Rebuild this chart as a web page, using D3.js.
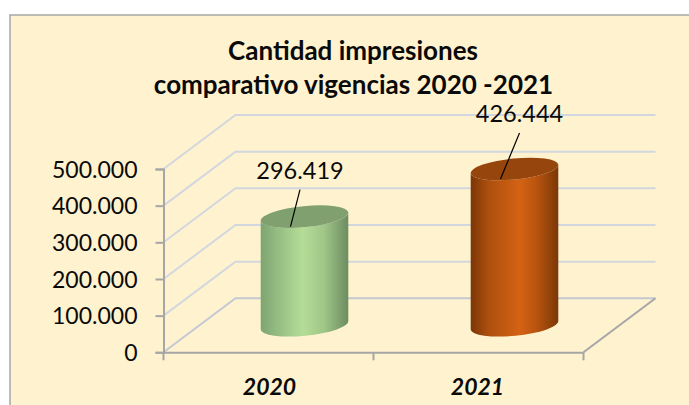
<!DOCTYPE html>
<html><head><meta charset="utf-8">
<script src="https://cdn.jsdelivr.net/npm/d3@7"></script>
<style>html,body{margin:0;padding:0;background:#fff}svg{display:block}text{font-family:Lato,"Open Sans",sans-serif;fill:#0a0a0a}</style>
</head><body><svg id="c" width="689" height="405"></svg>
<script>
const categories = ["2020","2021"];
const values = [296419,426444];
const valueLabels = ["296.419","426.444"];
const yTicks = [0,100000,200000,300000,400000,500000];
const yTickLabels = ["0","100.000","200.000","300.000","400.000","500.000"];
const titleLines = ["Cantidad impresiones","comparativo vigencias 2020 -2021"];
const sideStops = [
  [["0%","#7ea470"],["18%","#93bb82"],["48%","#b5dd97"],["72%","#a0c688"],["100%","#6d8c61"]],
  [["0%","#7a3606"],["20%","#ad4f0e"],["56%","#d46213"],["75%","#b95410"],["100%","#7a3806"]]
];
const topColors = ["#80a06f","#96450c"];

const svg = d3.select("#c");
const depthX = 72, depthY = 54;
const x = d3.scaleBand().domain(categories).range([163.5,583.5]);
const y = d3.scaleLinear().domain([0,500000]).range([352.3,169]);

svg.append("rect").attr("x",10).attr("y",15).attr("width",690).attr("height",400)
  .attr("fill","#fff2cf").attr("stroke","#a6a6a6").attr("stroke-width",1.5);

const defs = svg.append("defs");
categories.forEach((c,i)=>{
  const g = defs.append("linearGradient").attr("id","side"+i);
  sideStops[i].forEach(s=>g.append("stop").attr("offset",s[0]).attr("stop-color",s[1]));
});

// gridlines: front edge, side wall, back wall
const grid = svg.append("g").attr("fill","none").attr("stroke-width",2);
yTicks.forEach(t=>{
  const v = y(t);
  grid.append("path").attr("d",d3.line()([
    [x.range()[0],v],[x.range()[0]+depthX,v-depthY],[x.range()[1]+depthX,v-depthY]]))
    .attr("stroke",t===0?"#c3c9d2":"#d2d7df");
});

// floor and axes
const axisCol = "#a6a6a6";
const floorY = y(0);
svg.append("path").attr("fill","none").attr("stroke",axisCol).attr("stroke-width",2)
  .attr("d",d3.line()([[x.range()[1],floorY],[x.range()[1]+depthX,floorY-depthY]]));

const yAxis = d3.axisLeft(y).tickValues(yTicks).tickSize(8).tickPadding(18)
  .tickFormat((d,i)=>yTickLabels[i]);
const gy = svg.append("g").attr("transform",`translate(${x.range()[0]},0)`).call(yAxis);
gy.selectAll("path,line").attr("stroke",axisCol).attr("stroke-width",2);
gy.selectAll("text").attr("font-size",23).attr("fill","#0a0a0a").attr("dy","0.35em").style("font-family","Lato");

const xAxis = d3.axisBottom(x).tickValues([]).tickSizeOuter(0);
const gx = svg.append("g").attr("transform",`translate(0,${floorY})`).call(xAxis);
gx.selectAll("path").attr("stroke",axisCol).attr("stroke-width",2);
const bound = [x.range()[0],x(categories[1]),x.range()[1]];
gx.selectAll("line.t").data(bound).enter().append("line").attr("class","t")
  .attr("x1",d=>d).attr("x2",d=>d).attr("y1",0).attr("y2",8)
  .attr("stroke",axisCol).attr("stroke-width",2);
gx.selectAll("text.c").data(categories).enter().append("text").attr("class","c")
  .attr("x",d=>x(d)+x.bandwidth()/2+(d==="2020"?1:-1)).attr("y",43)
  .attr("text-anchor","middle").attr("font-size",23).attr("font-weight",700).attr("font-style","italic")
  .text(d=>d);

// cylinders
const rx = 44, ry = 10.5, tilt = -5.6, tiltR = tilt*Math.PI/180;
const ex = rx*Math.cos(tiltR), ey = rx*Math.sin(tiltR);
categories.forEach((c,i)=>{
  const cx = x(c)+x.bandwidth()/2+depthX/2;
  const by = y(0)-depthY/2, ty = y(values[i])-depthY/2;
  const g = svg.append("g");
  g.append("path").attr("fill",`url(#side${i})`).attr("d",
    `M${cx-ex},${ty-ey} L${cx-ex},${by-ey} A${rx},${ry} ${tilt} 0 0 ${cx+ex},${by+ey} L${cx+ex},${ty+ey} A${rx},${ry} ${tilt} 0 1 ${cx-ex},${ty-ey} Z`);
  g.append("ellipse").attr("cx",cx).attr("cy",ty).attr("rx",rx).attr("ry",ry)
    .attr("transform",`rotate(${tilt} ${cx} ${ty})`).attr("fill",topColors[i]);
  // leader + label
  const lx = cx-14, ly = ty+10;
  const ux = cx+(i?5:-4.5), uy = ty-(i?36:27);
  g.append("line").attr("x1",lx).attr("y1",ly).attr("x2",ux).attr("y2",uy)
    .attr("stroke","#000").attr("stroke-width",1.2);
  svg.append("text").attr("x",ux).attr("y",uy-11).attr("text-anchor","middle")
    .attr("font-size",23.5).text(valueLabels[i]);
});

// title
svg.selectAll("text.title").data(titleLines).enter().append("text").attr("class","title")
  .attr("x",(d,i)=>i?353.5:353).attr("y",(d,i)=>i?94:60).attr("text-anchor","middle")
  .attr("font-size",26).attr("font-weight",700).text(d=>d);
</script></body></html>
